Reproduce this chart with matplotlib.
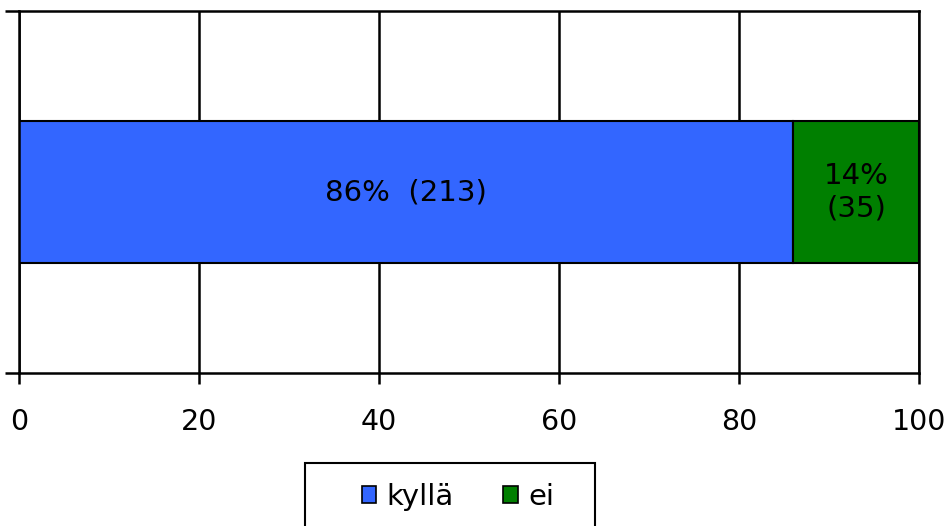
import matplotlib
matplotlib.use("Agg")
import matplotlib.pyplot as plt
from matplotlib.patches import Rectangle, Patch

categories = ["kyllä", "ei"]
percent = [86, 14]
counts = [213, 35]
colors = ["#3366FF", "#007F00"]
xticks = [0, 20, 40, 60, 80, 100]

plt.rcParams["font.family"] = ["DejaVu Sans"]

fig = plt.figure(figsize=(9.5, 5.26), dpi=100)
ax = fig.add_axes([19 / 950, 1 - 373 / 526, 900 / 950, 362 / 526])

left = 0
labels = [f"{percent[0]}%  ({counts[0]})", f"{percent[1]}%\n({counts[1]})"]
for p, c, lab in zip(percent, colors, labels):
    ax.barh(0, p, left=left, height=0.395, color=c, edgecolor="black",
            linewidth=1.5, zorder=3)
    ax.text(left + p / 2, 0, lab, ha="center", va="center", fontsize=21,
            color="black", zorder=4, linespacing=1.2)
    left += p

ax.set_xlim(0, 100)
ax.set_ylim(-0.5, 0.5)
ax.set_xticks(xticks)
ax.set_xticklabels([str(t) for t in xticks], fontsize=20.5)
ax.set_yticks([-0.5, 0.5])
ax.set_yticklabels(["", ""])
ax.tick_params(axis="x", direction="out", length=8, width=1.8, pad=17)
ax.tick_params(axis="y", direction="out", length=10, width=1.8)
ax.xaxis.grid(True, color="black", linewidth=1.8, zorder=1)
ax.set_axisbelow(True)
for s in ax.spines.values():
    s.set_linewidth(1.8)
    s.set_color("black")
    s.set_zorder(5)

# legend frame drawn separately so it can extend past the bottom edge
fig.patches.append(Rectangle((305 / 950, -0.05), 290 / 950, 0.05 + (526 - 463) / 526,
                             transform=fig.transFigure, fill=False,
                             edgecolor="black", linewidth=1.5))
handles = [Patch(facecolor=c, edgecolor="black", linewidth=1.2) for c in colors]
fig.legend(handles, categories, loc="center", bbox_to_anchor=(458 / 950, 1 - 497 / 526),
           ncol=2, frameon=False, fontsize=21, handlelength=0.5, handleheight=0.5,
           handletextpad=0.35, columnspacing=1.7)

fig.savefig("out.png", dpi=100)
